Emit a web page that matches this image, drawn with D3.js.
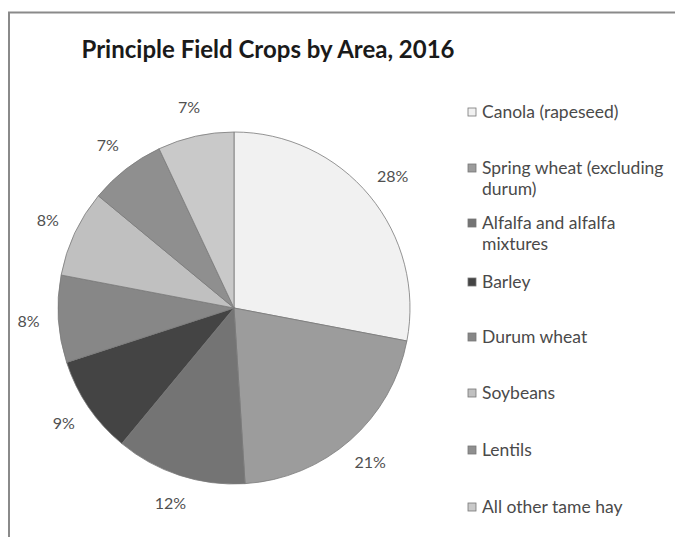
<!DOCTYPE html>
<html>
<head>
<meta charset="utf-8">
<script src="https://cdn.jsdelivr.net/npm/d3@7"></script>
<style>
  html, body { margin: 0; padding: 0; background: #fff; }
  svg { display: block; }
</style>
</head>
<body>
<div id="chart"></div>
<script>
// Share of field crop area, 2016 (percent), clockwise from 12 o'clock
const crops = [
  "Canola (rapeseed)",
  "Spring wheat (excluding durum)",
  "Alfalfa and alfalfa mixtures",
  "Barley",
  "Durum wheat",
  "Soybeans",
  "Lentils",
  "All other tame hay"
];
const shares = [28, 21, 12, 9, 8, 8, 7, 7];
// Legend text, wrapped as it appears in the legend
const legendLines = [
  ["Canola (rapeseed)"],
  ["Spring wheat (excluding", "durum)"],
  ["Alfalfa and alfalfa", "mixtures"],
  ["Barley"],
  ["Durum wheat"],
  ["Soybeans"],
  ["Lentils"],
  ["All other tame hay"]
];
const fills = ["#f1f1f1", "#9c9c9c", "#747474", "#444444", "#878787", "#c0c0c0", "#8f8f8f", "#c9c9c9"];

const W = 675, H = 537;
const cx = 234, cy = 308, R = 176;
const font = "Lato, 'Open Sans', sans-serif";

const svg = d3.select("#chart").append("svg")
  .attr("width", W).attr("height", H);

// Chart frame
svg.append("path")
  .attr("d", `M9,${H} L9,12.5 L${W},12.5`)
  .attr("fill", "none")
  .attr("stroke", "#8a8a8a")
  .attr("stroke-width", 2);

// Title
svg.append("text")
  .attr("x", 268).attr("y", 58)
  .attr("text-anchor", "middle")
  .attr("font-family", font)
  .attr("font-weight", "bold")
  .attr("font-size", 24)
  .attr("fill", "#1a1a1a")
  .text("Principle Field Crops by Area, 2016");

const data = crops.map((c, i) => ({ crop: c, value: shares[i], fill: fills[i] }));

const pie = d3.pie().value(d => d.value).sort(null);
const arcs = pie(data);
const arc = d3.arc().innerRadius(0).outerRadius(R);
const labelArc = d3.arc().innerRadius(R * 1.17).outerRadius(R * 1.17);

const g = svg.append("g").attr("transform", `translate(${cx},${cy})`);

g.selectAll("path.slice")
  .data(arcs)
  .join("path")
  .attr("class", "slice")
  .attr("d", arc)
  .attr("fill", d => d.data.fill)
  .attr("stroke", "#7a7a7a")
  .attr("stroke-width", 0.8);

const pct = d3.format(".0%");
g.selectAll("text.pct")
  .data(arcs)
  .join("text")
  .attr("class", "pct")
  .attr("transform", d => `translate(${labelArc.centroid(d)})`)
  .attr("text-anchor", "middle")
  .attr("dy", "0.35em")
  .attr("font-family", font)
  .attr("font-size", 16)
  .attr("fill", "#505050")
  .text(d => pct(d.data.value / 100));

// Legend
const legendY = [112, 168, 223, 282, 337, 393, 450, 507];
const lg = svg.append("g");
const item = lg.selectAll("g.item")
  .data(data)
  .join("g")
  .attr("class", "item")
  .attr("transform", (d, i) => `translate(468,${legendY[i]})`);

item.append("rect")
  .attr("x", 0).attr("y", -4)
  .attr("width", 8).attr("height", 8)
  .attr("fill", d => d.fill)
  .attr("stroke", "#777")
  .attr("stroke-width", 0.8);

item.append("text")
  .attr("font-family", font)
  .attr("font-size", 17.5)
  .attr("fill", "#4a4a4a")
  .selectAll("tspan")
  .data((d, i) => legendLines[i])
  .join("tspan")
  .attr("x", 14)
  .attr("y", (t, j) => j * 21)
  .attr("dy", "0.35em")
  .text(t => t);
</script>
</body>
</html>
